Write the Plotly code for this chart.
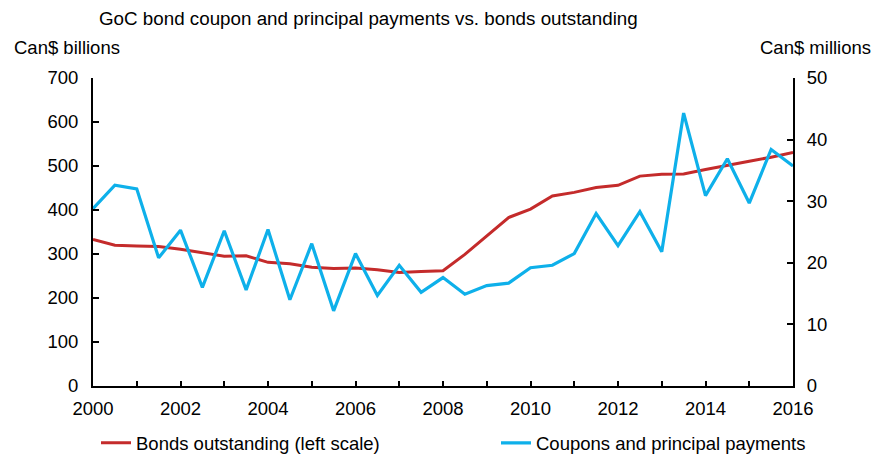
import plotly.graph_objects as go

periods = [2000.0, 2000.5, 2001.0, 2001.5, 2002.0, 2002.5, 2003.0, 2003.5,
           2004.0, 2004.5, 2005.0, 2005.5, 2006.0, 2006.5, 2007.0, 2007.5,
           2008.0, 2008.5, 2009.0, 2009.5, 2010.0, 2010.5, 2011.0, 2011.5,
           2012.0, 2012.5, 2013.0, 2013.5, 2014.0, 2014.5, 2015.0, 2015.5, 2016.0]

bonds_outstanding = [333, 320, 318, 317, 311, 303, 295, 296,
                     281, 278, 270, 267, 268, 264, 258, 260,
                     262, 299, 342, 383, 402, 432, 440, 451,
                     456, 477, 481, 482, 492, 502, 511, 520, 531]

coupons_principal = [28.8, 32.6, 32.0, 20.8, 25.3, 16.0, 25.2, 15.6,
                     25.4, 14.0, 23.1, 12.2, 21.5, 14.7, 19.6, 15.2,
                     17.6, 14.9, 16.3, 16.7, 19.2, 19.6, 21.5, 28.0,
                     22.8, 28.3, 21.8, 44.3, 30.9, 36.9, 29.7, 38.4, 35.7]

title_text = "GoC bond coupon and principal payments vs. bonds outstanding"
left_unit = "Can$ billions"
right_unit = "Can$ millions"
name_bonds = "Bonds outstanding (left scale)"
name_coupons = "Coupons and principal payments"

RED = "#C42B2B"
BLUE = "#0EB0EA"
FONT = "Liberation Sans, Arial, sans-serif"
FS = 18.5
OFF = 8  # page body margin

W, H = 880 - OFF, 457 - OFF
L, T = 93 - OFF, 78 - OFF
PW, PH = 700, 308

fig = go.Figure()
fig.add_trace(go.Scatter(x=periods, y=bonds_outstanding, name=name_bonds,
                         mode="lines", line=dict(color=RED, width=3), yaxis="y",
                         legend="legend"))
fig.add_trace(go.Scatter(x=periods, y=coupons_principal, name=name_coupons,
                         mode="lines", line=dict(color=BLUE, width=3.2), yaxis="y2",
                         legend="legend2"))

axis_common = dict(showgrid=False, zeroline=False, showline=True, linecolor="black",
                   linewidth=2, ticks="inside", tickcolor="black", tickwidth=1.5,
                   tickfont=dict(family=FONT, size=FS, color="black"))

legend_common = dict(orientation="h", xanchor="left", y=-(443 - 385.7) / PH, yanchor="middle",
                     font=dict(family=FONT, size=FS, color="black"),
                     bgcolor="rgba(0,0,0,0)", borderwidth=0)

fig.update_layout(
    width=W, height=H,
    margin=dict(l=L, r=W - L - PW, t=T, b=H - T - PH, autoexpand=False),
    paper_bgcolor="white", plot_bgcolor="white",
    font=dict(family=FONT, size=FS, color="black"),
    title=dict(text=title_text, x=(99 - OFF) / W, xanchor="left", xref="container",
               y=1 - (18 - OFF) / H, yanchor="middle", yref="container",
               font=dict(family=FONT, size=18.8, color="black")),
    xaxis=dict(range=[2000, 2016], dtick=2, tick0=2000, ticklen=5,
               ticklabelstandoff=5,
               minor=dict(dtick=1, ticks="inside", ticklen=5, tickcolor="black", tickwidth=1.5),
               **axis_common),
    yaxis=dict(range=[0, 700], dtick=100, ticklen=6, ticklabelstandoff=9, **axis_common),
    yaxis2=dict(range=[0, 50], dtick=10, ticklen=6, overlaying="y", side="right",
                ticklabelstandoff=8, **axis_common),
    showlegend=True,
    legend=dict(x=(96 - 93) / PW, **legend_common),
    legend2=dict(x=(496 - 93) / PW, **legend_common),
    annotations=[
        dict(text=left_unit, xref="paper", yref="paper", x=-81 / PW, y=1 + 31 / PH,
             xanchor="left", yanchor="middle", showarrow=False,
             font=dict(family=FONT, size=FS, color="black")),
        dict(text=right_unit, xref="paper", yref="paper", x=1 + 80 / PW, y=1 + 31 / PH,
             xanchor="right", yanchor="middle", showarrow=False,
             font=dict(family=FONT, size=FS, color="black")),
    ],
)

fig.write_html("out.html")
